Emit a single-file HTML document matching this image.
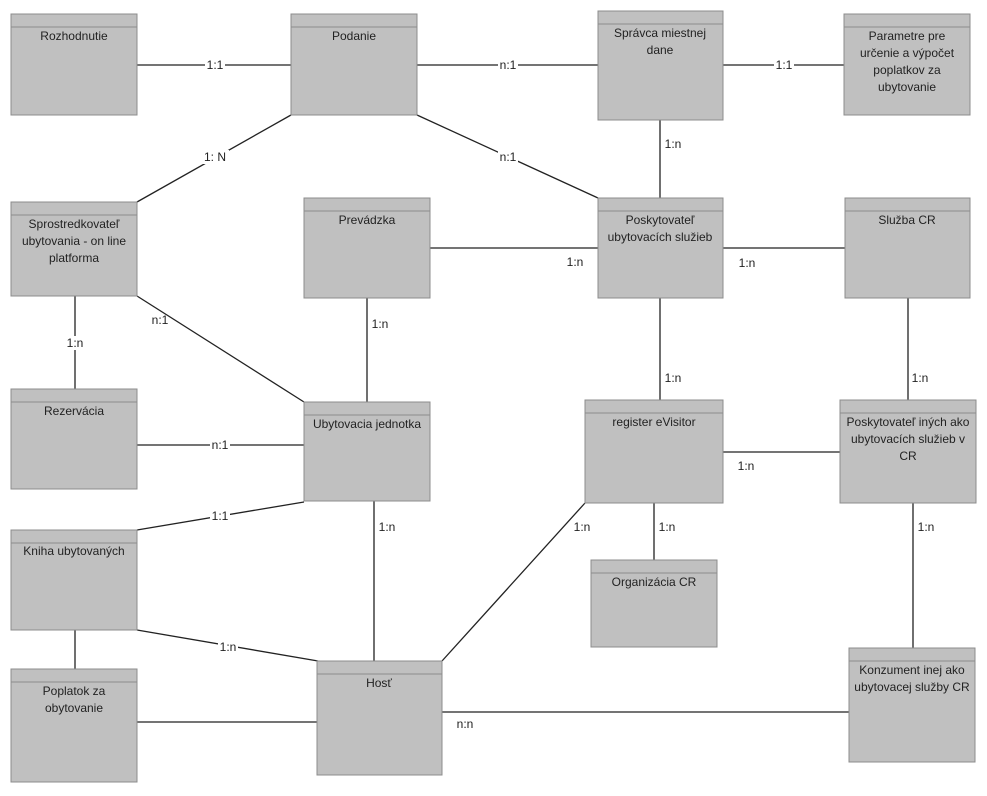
<!DOCTYPE html>
<html><head><meta charset="utf-8"><style>
html,body{margin:0;padding:0;background:#fff;}
svg{display:block;font-family:"Liberation Sans",sans-serif;}
.b rect{fill:#c0c0c0;stroke:#8c8c8c;stroke-width:1;}
.b line{stroke:#8c8c8c;stroke-width:1;}
.t{font-size:12px;fill:#222;text-anchor:middle;}
.c{stroke:#222;stroke-width:1.3;fill:none;}
.l{font-size:12px;fill:#222;text-anchor:middle;}
.bg{fill:#fff;}
</style></head><body>
<svg width="987" height="796" viewBox="0 0 987 796" xmlns="http://www.w3.org/2000/svg">
<!-- connectors -->
<g class="c">
<line x1="137" y1="65" x2="291" y2="65"/>
<line x1="417" y1="65" x2="598" y2="65"/>
<line x1="723" y1="65" x2="844" y2="65"/>
<line x1="291" y1="115" x2="137" y2="202"/>
<line x1="417" y1="115" x2="598" y2="198"/>
<line x1="660" y1="120" x2="660" y2="198"/>
<line x1="430" y1="248" x2="598" y2="248"/>
<line x1="723" y1="248" x2="845" y2="248"/>
<line x1="75" y1="296" x2="75" y2="389"/>
<line x1="137" y1="296" x2="304" y2="402"/>
<line x1="367" y1="298" x2="367" y2="402"/>
<line x1="660" y1="298" x2="660" y2="400"/>
<line x1="908" y1="298" x2="908" y2="400"/>
<line x1="137" y1="445" x2="304" y2="445"/>
<line x1="723" y1="452" x2="840" y2="452"/>
<line x1="137" y1="530" x2="304" y2="502"/>
<line x1="374" y1="501" x2="374" y2="661"/>
<line x1="585" y1="503" x2="442" y2="661"/>
<line x1="654" y1="503" x2="654" y2="560"/>
<line x1="913" y1="503" x2="913" y2="648"/>
<line x1="75" y1="630" x2="75" y2="669"/>
<line x1="137" y1="630" x2="318" y2="661"/>
<line x1="137" y1="722" x2="318" y2="722"/>
<line x1="442" y1="712" x2="849" y2="712"/>
</g>
<!-- on-line labels with bg -->
<g>
<rect class="bg" x="205" y="58" width="20" height="14"/><text class="l" x="215" y="69">1:1</text>
<rect class="bg" x="498" y="58" width="20" height="14"/><text class="l" x="508" y="69">n:1</text>
<rect class="bg" x="774" y="58" width="20" height="14"/><text class="l" x="784" y="69">1:1</text>
<rect class="bg" x="201" y="150" width="28" height="14"/><text class="l" x="215" y="161">1: N</text>
<rect class="bg" x="498" y="150" width="20" height="14"/><text class="l" x="508" y="161">n:1</text>
<rect class="bg" x="65" y="336" width="20" height="14"/><text class="l" x="75" y="347">1:n</text>
<rect class="bg" x="210" y="438" width="20" height="14"/><text class="l" x="220" y="449">n:1</text>
<rect class="bg" x="210" y="509" width="20" height="14"/><text class="l" x="220" y="520">1:1</text>
<rect class="bg" x="218" y="640" width="20" height="14"/><text class="l" x="228" y="651">1:n</text>
<text class="l" x="673" y="148">1:n</text>
<text class="l" x="575" y="266">1:n</text>
<text class="l" x="747" y="267">1:n</text>
<text class="l" x="160" y="324">n:1</text>
<text class="l" x="380" y="328">1:n</text>
<text class="l" x="673" y="382">1:n</text>
<text class="l" x="920" y="382">1:n</text>
<text class="l" x="746" y="470">1:n</text>
<text class="l" x="387" y="531">1:n</text>
<text class="l" x="582" y="531">1:n</text>
<text class="l" x="667" y="531">1:n</text>
<text class="l" x="926" y="531">1:n</text>
<text class="l" x="465" y="728">n:n</text>
</g>
<!-- boxes -->
<g class="b">
<rect x="11" y="14" width="126" height="101"/><line x1="11" y1="27" x2="137" y2="27"/>
<rect x="291" y="14" width="126" height="101"/><line x1="291" y1="27" x2="417" y2="27"/>
<rect x="598" y="11" width="125" height="109"/><line x1="598" y1="24" x2="723" y2="24"/>
<rect x="844" y="14" width="126" height="101"/><line x1="844" y1="27" x2="970" y2="27"/>
<rect x="11" y="202" width="126" height="94"/><line x1="11" y1="215" x2="137" y2="215"/>
<rect x="304" y="198" width="126" height="100"/><line x1="304" y1="211" x2="430" y2="211"/>
<rect x="598" y="198" width="125" height="100"/><line x1="598" y1="211" x2="723" y2="211"/>
<rect x="845" y="198" width="125" height="100"/><line x1="845" y1="211" x2="970" y2="211"/>
<rect x="11" y="389" width="126" height="100"/><line x1="11" y1="402" x2="137" y2="402"/>
<rect x="304" y="402" width="126" height="99"/><line x1="304" y1="415" x2="430" y2="415"/>
<rect x="585" y="400" width="138" height="103"/><line x1="585" y1="413" x2="723" y2="413"/>
<rect x="840" y="400" width="136" height="103"/><line x1="840" y1="413" x2="976" y2="413"/>
<rect x="11" y="530" width="126" height="100"/><line x1="11" y1="543" x2="137" y2="543"/>
<rect x="591" y="560" width="126" height="87"/><line x1="591" y1="573" x2="717" y2="573"/>
<rect x="11" y="669" width="126" height="113"/><line x1="11" y1="682" x2="137" y2="682"/>
<rect x="317" y="661" width="125" height="114"/><line x1="317" y1="674" x2="442" y2="674"/>
<rect x="849" y="648" width="126" height="114"/><line x1="849" y1="661" x2="975" y2="661"/>
</g>
<g class="t">
<text x="74" y="40">Rozhodnutie</text>
<text x="354" y="40">Podanie</text>
<text x="660" y="37">Správca miestnej</text><text x="660" y="54">dane</text>
<text x="907" y="40">Parametre pre</text><text x="907" y="57">určenie a výpočet</text><text x="907" y="74">poplatkov za</text><text x="907" y="91">ubytovanie</text>
<text x="74" y="228">Sprostredkovateľ</text><text x="74" y="245">ubytovania - on line</text><text x="74" y="262">platforma</text>
<text x="367" y="224">Prevádzka</text>
<text x="660" y="224">Poskytovateľ</text><text x="660" y="241">ubytovacích služieb</text>
<text x="907" y="224">Služba CR</text>
<text x="74" y="415">Rezervácia</text>
<text x="367" y="428">Ubytovacia jednotka</text>
<text x="654" y="426">register eVisitor</text>
<text x="908" y="426">Poskytovateľ iných ako</text><text x="908" y="443">ubytovacích služieb v</text><text x="908" y="460">CR</text>
<text x="74" y="555">Kniha ubytovaných</text>
<text x="654" y="586">Organizácia CR</text>
<text x="74" y="695">Poplatok za</text><text x="74" y="712">obytovanie</text>
<text x="379" y="687">Hosť</text>
<text x="912" y="674">Konzument inej ako</text><text x="912" y="691">ubytovacej služby CR</text>
</g>
</svg>
</body></html>
